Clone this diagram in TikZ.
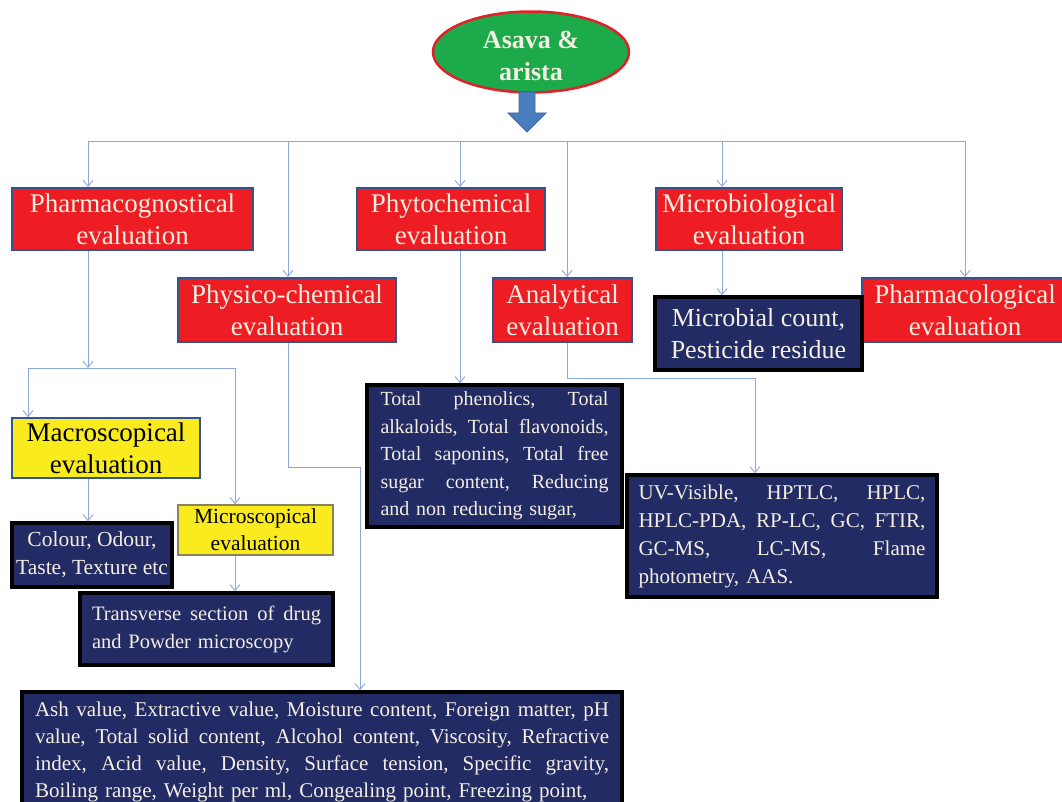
\documentclass[tikz,border=0pt]{standalone}
\usepackage{fontspec}
\setmainfont{Liberation Serif}
\usetikzlibrary{shapes.geometric,arrows.meta}
\definecolor{redc}{HTML}{EE1D23}
\definecolor{bordc}{HTML}{34548E}
\definecolor{navyc}{HTML}{222B64}
\definecolor{yelc}{HTML}{FAEB1E}
\definecolor{micb}{HTML}{8C825A}
\definecolor{linec}{HTML}{8CA8D8}
\definecolor{txtc}{HTML}{F4EFE2}
\definecolor{greenc}{HTML}{1DAA4A}
\definecolor{ellb}{HTML}{E3202A}
\definecolor{arrowc}{HTML}{4A7DBD}
\definecolor{arrowb}{HTML}{3B669E}
\newcommand{\jl}[2]{\leavevmode\hbox to #1{#2}}
\begin{document}
\begin{tikzpicture}[x=1pt,y=-1pt,
  redbox/.style={rectangle,fill=redc,draw=bordc,line width=2pt,text=txtc,align=center,inner sep=0pt,font=\fontsize{27}{32}\selectfont},
  yelbox/.style={rectangle,fill=yelc,draw=bordc,line width=1.6pt,text=black,align=center,inner sep=0pt},
  navybox/.style={rectangle,fill=navyc,draw=black,line width=3.5pt,text=txtc,inner sep=0pt},
  conn/.style={draw=linec,line width=0.9pt},
  arr/.style={conn,-{Straight Barb[length=6pt,width=10pt]}}]
\useasboundingbox (0,0) rectangle (1062,802);
\fill[white] (0,0) rectangle (1062,802);

% top ellipse
\node[ellipse,fill=greenc,draw=ellb,line width=2.5pt,minimum width=196pt,minimum height=78pt,inner sep=0pt,text=txtc,align=center,font=\bfseries\fontsize{26}{32}\selectfont] (top) at (531,52) {\rule{0pt}{25pt}Asava \&\\arista};
\fill[arrowc,draw=arrowb,line width=0.8pt] (519,92) -- (535,92) -- (535,113) -- (546,113) -- (527,132) -- (508,113) -- (519,113) -- cycle;

% first level boxes
\node[redbox,minimum width=241pt,minimum height=62pt] (pharmacog) at (132.5,219) {Pharmacognostical\\evaluation};
\node[redbox,minimum width=188pt,minimum height=62pt] (phyto) at (451,219) {Phytochemical\\evaluation};
\node[redbox,minimum width=186pt,minimum height=62pt] (microbio) at (749,219) {Microbiological\\evaluation};
\node[redbox,minimum width=218pt,minimum height=64pt] (physico) at (287,310) {Physico-chemical\\evaluation};
\node[redbox,minimum width=139pt,minimum height=64pt] (analyt) at (562.5,310) {Analytical\\evaluation};
\node[redbox,minimum width=206pt,minimum height=64pt] (pharmacol) at (965,310) {Pharmacological\\evaluation};
\node[navybox,minimum width=207pt,minimum height=73pt,align=center,font=\fontsize{26}{32}\selectfont] (microbial) at (758.5,333.5) {Microbial count,\\Pesticide residue};

% pharmacognostical subtree
\node[yelbox,minimum width=188pt,minimum height=60pt,font=\fontsize{27}{32}\selectfont] (macro) at (106,448) {Macroscopical\\evaluation};
\node[yelbox,draw=micb,minimum width=155pt,minimum height=50pt,font=\fontsize{21.5}{27}\selectfont] (micro) at (255.5,530) {\raisebox{-3pt}{Microscopical}\\\raisebox{-3pt}{evaluation}};
\node[navybox,minimum width=160pt,minimum height=64pt,align=center,font=\fontsize{21.5}{28}\selectfont] (colour) at (92,555) {Colour, Odour,\\Taste, Texture etc};
\node[navybox,minimum width=253pt,minimum height=72pt,align=left,text width=229pt,font=\fontsize{20.5}{28}\selectfont] (transverse) at (206.5,629) {\jl{229pt}{Transverse \hfill section \hfill of \hfill drug}\\and Powder microscopy};

% detail boxes
\node[navybox,minimum width=255pt,minimum height=142pt,align=left,text width=228pt,font=\fontsize{20}{27.5}\selectfont] (phenol) at (494.5,456) {\jl{228pt}{Total \hfill phenolics, \hfill Total}\\\jl{228pt}{alkaloids, \hfill Total \hfill flavonoids,}\\\jl{228pt}{Total \hfill saponins, \hfill Total \hfill free}\\\jl{228pt}{sugar \hfill content, \hfill Reducing}\\and non reducing sugar,};
\node[navybox,minimum width=310pt,minimum height=122pt,align=left,text width=287pt,font=\fontsize{21}{28}\selectfont] (uv) at (782,536) {\jl{287pt}{UV-Visible, \hfill HPTLC, \hfill HPLC,}\\\jl{287pt}{HPLC-PDA, \hfill RP-LC, \hfill GC, \hfill FTIR,}\\\jl{287pt}{GC-MS, \hfill LC-MS, \hfill Flame}\\photometry, AAS.};
\node[navybox,minimum width=600pt,minimum height=120pt,align=left,text width=574pt,font=\fontsize{21}{26.7}\selectfont] (bottom) at (322,752) {\jl{574pt}{Ash \hfill value, \hfill Extractive \hfill value, \hfill Moisture \hfill content, \hfill Foreign \hfill matter, \hfill pH}\\\jl{574pt}{value, \hfill Total \hfill solid \hfill content, \hfill Alcohol \hfill content, \hfill Viscosity, \hfill Refractive}\\\jl{574pt}{index, \hfill Acid \hfill value, \hfill Density, \hfill Surface \hfill tension, \hfill Specific \hfill gravity,}\\Boiling range, Weight per ml, Congealing point, Freezing point,};

% bus
\coordinate (b1) at (88,141);
\coordinate (b2) at (288,141);
\coordinate (b3) at (460,141);
\coordinate (b4) at (567,141);
\coordinate (b5) at (722,141);
\coordinate (b6) at (965,141);
\draw[conn] (b1) -- (b6);
\draw[arr] (b1) -- (b1 |- pharmacog.north);
\draw[arr] (b2) -- (b2 |- physico.north);
\draw[arr] (b3) -- (b3 |- phyto.north);
\draw[arr] (b4) -- (b4 |- analyt.north);
\draw[arr] (b5) -- (b5 |- microbio.north);
\draw[arr] (b6) -- (b6 |- pharmacol.north);

% pharmacognostical branches
\coordinate (pj) at (88,368);
\coordinate (pjL) at (28,368);
\coordinate (pjR) at (235,368);
\draw[arr] (pharmacog.south -| pj) -- (pj);
\draw[conn] (pjL) -- (pjR);
\draw[arr] (pjL) -- (pjL |- macro.north);
\draw[arr] (pjR) -- (pjR |- micro.north);
\draw[arr] (macro.south -| pj) -- (pj |- colour.north);
\draw[arr] (micro.south -| pjR) -- (pjR |- transverse.north);

% physico-chemical
\coordinate (phA) at (288,467);
\coordinate (phB) at (360,467);
\draw[arr] (physico.south -| phA) -- (phA) -- (phB) -- (phB |- bottom.north);

% phytochemical
\draw[arr] (phyto.south -| b3) -- (b3 |- phenol.north);

% analytical
\coordinate (anA) at (567,378);
\coordinate (anB) at (755,378);
\draw[arr] (analyt.south -| anA) -- (anA) -- (anB) -- (anB |- uv.north);

% microbiological
\draw[arr] (microbio.south -| b5) -- (b5 |- microbial.north);
\end{tikzpicture}
\end{document}
